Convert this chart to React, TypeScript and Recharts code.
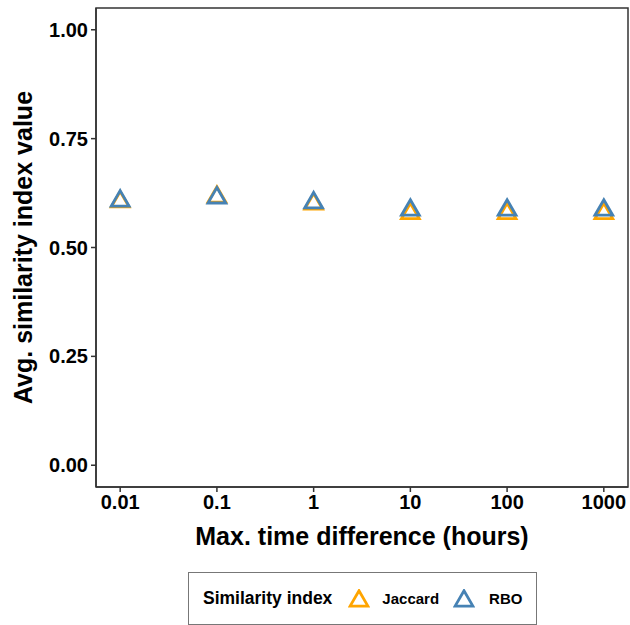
import React from "react";
import {
  ScatterChart,
  Scatter,
  XAxis,
  YAxis,
  ReferenceArea,
} from "recharts";

// max. time difference (hours), log scale
const timeDiffs = [0.01, 0.1, 1, 10, 100, 1000];
const jaccard = [0.605, 0.616, 0.6, 0.578, 0.578, 0.578];
const rbo = [0.607, 0.614, 0.603, 0.586, 0.586, 0.586];

const xTicks = [0.01, 0.1, 1, 10, 100, 1000];
const yTicks = [0, 0.25, 0.5, 0.75, 1];

const JACCARD_COLOR = "#FFA500";
const RBO_COLOR = "#4682B4";
const FONT = "'Liberation Sans', Arial, Helvetica, sans-serif";

const X_MIN = Math.pow(10, -2.25);
const X_MAX = Math.pow(10, 3.25);

const jaccardData = timeDiffs.map((t, i) => ({ x: t, y: jaccard[i] }));
const rboData = timeDiffs.map((t, i) => ({ x: t, y: rbo[i] }));

const R = 10.3;

const trianglePath = (cx: number, cy: number, r: number) =>
  `M${cx},${cy - r} L${cx + r * 0.866},${cy + r / 2} L${cx - r * 0.866},${cy + r / 2} Z`;

const makeTriangle = (color: string) => (props: any) => {
  const { cx, cy } = props;
  if (cx == null || cy == null) return <g />;
  return (
    <path
      d={trianglePath(cx, cy, R)}
      fill="none"
      stroke={color}
      strokeWidth={2.8}
      strokeLinejoin="miter"
    />
  );
};

const LegendTriangle = ({ color }: { color: string }) => (
  <svg width={22} height={20} style={{ display: "block" }}>
    <path d={trianglePath(11, 12, R)} fill="none" stroke={color} strokeWidth={2.8} />
  </svg>
);

const tickStyle = { fontFamily: FONT, fontSize: 20, fontWeight: "bold", fill: "#000" };

export default function App() {
  return (
    <div style={{ position: "absolute", left: 0, top: 0, width: 630, height: 625, background: "#fff" }}>
      <ScatterChart
        width={630}
        height={625}
        margin={{ top: 8, right: 2, bottom: 68, left: 0 }}
      >
        <XAxis
          type="number"
          dataKey="x"
          scale="log"
          domain={[X_MIN, X_MAX]}
          ticks={xTicks}
          tickFormatter={(v) => String(v)}
          height={70}
          axisLine={{ stroke: "#333", strokeWidth: 1.5 }}
          tickLine={{ stroke: "#333", strokeWidth: 1.5 }}
          tickSize={5}
          tickMargin={3}
          tick={tickStyle}
          interval={0}
          allowDataOverflow
          label={{
            value: "Max. time difference (hours)",
            position: "insideBottom",
            offset: 12,
            style: { fontFamily: FONT, fontSize: 25, fontWeight: "bold", fill: "#000" },
          }}
        />
        <YAxis
          type="number"
          dataKey="y"
          domain={[-0.05, 1.05]}
          ticks={yTicks}
          tickFormatter={(v) => Number(v).toFixed(2)}
          width={96}
          axisLine={{ stroke: "#333", strokeWidth: 1.5 }}
          tickLine={{ stroke: "#333", strokeWidth: 1.5 }}
          tickSize={5}
          tickMargin={3}
          tick={tickStyle}
          interval={0}
          allowDataOverflow
          label={{
            value: "Avg. similarity index value",
            angle: -90,
            position: "insideLeft",
            offset: 23,
            style: { textAnchor: "middle", fontFamily: FONT, fontSize: 25, fontWeight: "bold", fill: "#000" },
          }}
        />
        <ReferenceArea
          x1={X_MIN}
          x2={X_MAX}
          y1={-0.05}
          y2={1.05}
          fill="none"
          stroke="#333"
          strokeWidth={1.5}
          ifOverflow="visible"
        />
        <Scatter
          name="Jaccard"
          data={jaccardData}
          shape={makeTriangle(JACCARD_COLOR)}
          isAnimationActive={false}
        />
        <Scatter
          name="RBO"
          data={rboData}
          shape={makeTriangle(RBO_COLOR)}
          isAnimationActive={false}
        />
      </ScatterChart>

      <div
        style={{
          position: "absolute",
          left: 188,
          top: 572,
          width: 349,
          height: 53,
          boxSizing: "border-box",
          border: "1px solid #777",
          display: "flex",
          alignItems: "center",
          fontFamily: FONT,
          fontWeight: "bold",
          color: "#000",
        }}
      >
        <span style={{ fontSize: 17.5, marginLeft: 14 }}>Similarity index</span>
        <span style={{ marginLeft: 16 }}>
          <LegendTriangle color={JACCARD_COLOR} />
        </span>
        <span style={{ fontSize: 15, marginLeft: 12 }}>Jaccard</span>
        <span style={{ marginLeft: 14 }}>
          <LegendTriangle color={RBO_COLOR} />
        </span>
        <span style={{ fontSize: 15, marginLeft: 14 }}>RBO</span>
      </div>
    </div>
  );
}
